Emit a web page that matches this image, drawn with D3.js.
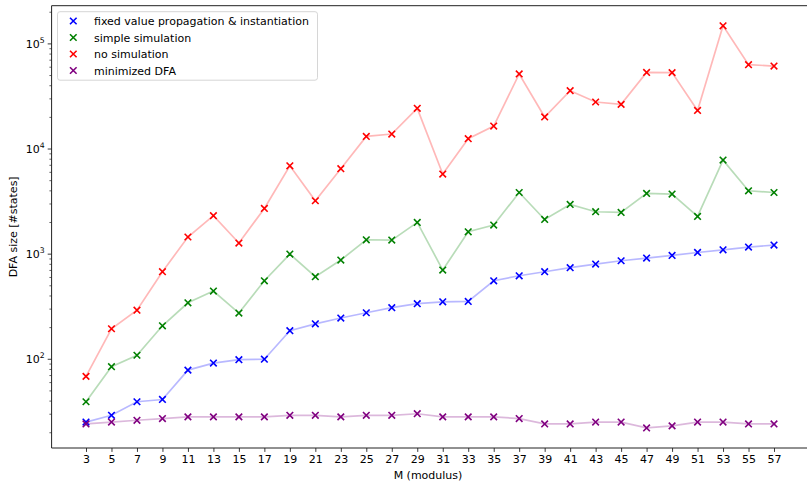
<!DOCTYPE html>
<html>
<head>
<meta charset="utf-8">
<script src="https://cdn.jsdelivr.net/npm/d3@7"></script>
<style>
  html, body { margin: 0; padding: 0; background: #fff; }
  svg { display: block; font-family: "DejaVu Sans", sans-serif; }
</style>
</head>
<body>
<svg id="chart" width="807" height="482"></svg>
<script>
// Modulus values on the x axis
const moduli = [3,5,7,9,11,13,15,17,19,21,23,25,27,29,31,33,35,37,39,41,43,45,47,49,51,53,55,57];
const xTickLabels = moduli.map(String);

// DFA sizes (#states) per construction
const fixedValueProp = [25,29,39,41,78,91,98,99,185,215,244,274,306,334,348,351,552,616,673,735,796,856,908,962,1026,1088,1155,1207];
const simpleSim = [39,84,108,206,341,441,272,552,991,603,869,1355,1346,1982,698,1614,1871,3816,2113,2936,2504,2466,3740,3690,2260,7760,3963,3816];
const noSim = [68,193,290,673,1440,2296,1262,2692,6850,3185,6430,13030,13740,24100,5720,12390,16360,51200,19950,35480,27700,26300,52970,52700,23030,147000,62700,60900];
const minimizedDFA = [24,25,26,27,28,28,28,28,29,29,28,29,29,30,28,28,28,27,24,24,25,25,22,23,25,25,24,24];

const seriesNames = ["fixed value propagation & instantiation", "simple simulation", "no simulation", "minimized DFA"];
const seriesColors = ["#0000ff", "#008000", "#ff0000", "#800080"];
const seriesValues = [fixedValueProp, simpleSim, noSim, minimizedDFA];

const yTickValues = [1e2, 1e3, 1e4, 1e5];
const yTickExponents = ["2", "3", "4", "5"];

const svg = d3.select("#chart");
const plot = { left: 51.6, right: 808.4, top: 5.7, bottom: 448 };

// x: linear with 5% padding on both sides
const xMin = d3.min(moduli), xMax = d3.max(moduli);
const xPad = (xMax - xMin) * 0.05;
const x = d3.scaleLinear().domain([xMin - xPad, xMax + xPad]).range([plot.left, plot.right]);

// y: log with 5% padding in log space
const allVals = seriesValues.flat();
const lMin = Math.log10(d3.min(allVals)), lMax = Math.log10(d3.max(allVals));
const lPad = (lMax - lMin) * 0.05;
const y = d3.scaleLog().domain([10 ** (lMin - lPad), 10 ** (lMax + lPad)]).range([plot.bottom, plot.top]);

const g = svg.append("g");

// series: translucent connecting line + x markers
const line = d3.line().x((d, i) => x(moduli[i])).y(d => y(d));
seriesValues.forEach((vals, si) => {
  g.append("path")
    .datum(vals)
    .attr("d", line)
    .attr("fill", "none")
    .attr("stroke", seriesColors[si])
    .attr("stroke-opacity", 0.28)
    .attr("stroke-width", 1.7);
});
const mk = 3.3;
seriesValues.forEach((vals, si) => {
  const grp = g.append("g");
  grp.selectAll("path")
    .data(vals)
    .join("path")
    .attr("d", (d, i) => {
      const cx = x(moduli[i]), cy = y(d);
      return `M${cx - mk},${cy - mk}L${cx + mk},${cy + mk}M${cx - mk},${cy + mk}L${cx + mk},${cy - mk}`;
    })
    .attr("stroke", seriesColors[si])
    .attr("stroke-width", 1.6)
    .attr("fill", "none");
});

// spines
svg.append("line").attr("x1", plot.left).attr("x2", plot.left).attr("y1", plot.top).attr("y2", plot.bottom)
  .attr("stroke", "#222").attr("stroke-width", 1);
svg.append("line").attr("x1", plot.left).attr("x2", plot.right).attr("y1", plot.bottom).attr("y2", plot.bottom)
  .attr("stroke", "#222").attr("stroke-width", 1);
svg.append("line").attr("x1", plot.left).attr("x2", plot.right).attr("y1", plot.top).attr("y2", plot.top)
  .attr("stroke", "#222").attr("stroke-width", 1);

// x axis
const xAxis = d3.axisBottom(x).tickValues(moduli).tickFormat((d, i) => xTickLabels[i]).tickSize(3.9).tickPadding(3);
const xg = svg.append("g").attr("transform", `translate(0,${plot.bottom})`).call(xAxis);
xg.select(".domain").remove();
xg.selectAll("line").attr("stroke", "#222").attr("stroke-width", 0.9);
xg.selectAll("text").attr("font-size", 11).attr("fill", "#000").attr("font-family", "DejaVu Sans");

// y axis: major and minor ticks
const [d0, d1] = y.domain();
const minor = [];
for (let e = Math.floor(Math.log10(d0)); e <= Math.ceil(Math.log10(d1)); e++) {
  for (let m = 2; m <= 9; m++) {
    const v = m * 10 ** e;
    if (v >= d0 && v <= d1) minor.push(v);
  }
}
const yMinorAxis = d3.axisLeft(y).tickValues(minor).tickSize(2.2).tickFormat("");
const ymg = svg.append("g").attr("transform", `translate(${plot.left},0)`).call(yMinorAxis);
ymg.select(".domain").remove();
ymg.selectAll("line").attr("stroke", "#222").attr("stroke-width", 0.7);

const yAxis = d3.axisLeft(y).tickValues(yTickValues).tickSize(3.9).tickFormat("");
const yg = svg.append("g").attr("transform", `translate(${plot.left},0)`).call(yAxis);
yg.select(".domain").remove();
yg.selectAll("line").attr("stroke", "#222").attr("stroke-width", 0.9);
yg.selectAll(".tick").each(function(d, i) {
  const t = d3.select(this).append("text")
    .attr("x", -7).attr("y", 4).attr("text-anchor", "end")
    .attr("font-size", 11).attr("fill", "#000").attr("font-family", "DejaVu Sans");
  t.append("tspan").text("10");
  t.append("tspan").attr("font-size", 7.7).attr("dy", -5).text(yTickExponents[i]);
});

// axis titles
svg.append("text").attr("x", (plot.left + plot.right) / 2 - 2).attr("y", 479)
  .attr("text-anchor", "middle").attr("font-size", 11).text("M (modulus)");
svg.append("text").attr("transform", `translate(17,${(plot.top + plot.bottom) / 2}) rotate(-90)`)
  .attr("text-anchor", "middle").attr("font-size", 11).text("DFA size [#states]");

// legend
const lg = svg.append("g");
lg.append("rect").attr("x", 57.5).attr("y", 11.7).attr("width", 260).attr("height", 68.5)
  .attr("rx", 2.5).attr("fill", "#fff").attr("fill-opacity", 0.8)
  .attr("stroke", "#d6d6d6").attr("stroke-width", 1);
seriesNames.forEach((name, i) => {
  const cy = 21 + i * 16.5;
  const cx = 73.3;
  lg.append("path")
    .attr("d", `M${cx - mk},${cy - mk}L${cx + mk},${cy + mk}M${cx - mk},${cy + mk}L${cx + mk},${cy - mk}`)
    .attr("stroke", seriesColors[i]).attr("stroke-width", 1.6);
  lg.append("text").attr("x", 94).attr("y", cy + 4).attr("font-size", 11).text(name);
});
</script>
</body>
</html>
